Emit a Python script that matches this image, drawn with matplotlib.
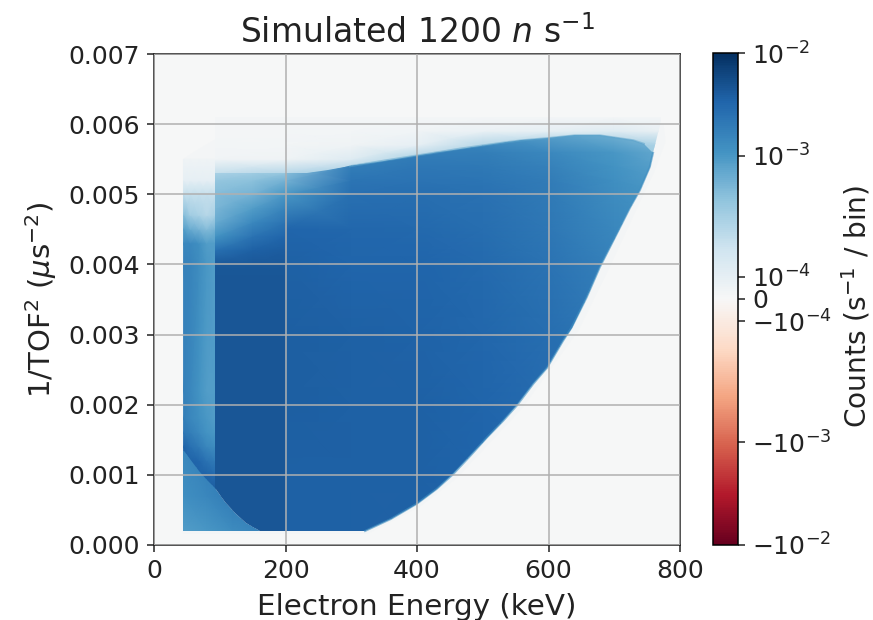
import numpy as np
import matplotlib
matplotlib.use("Agg")
import matplotlib.pyplot as plt
from matplotlib.cm import ScalarMappable
from matplotlib.colors import FuncNorm
from matplotlib.patches import Polygon

# colorbar ticks and where they sit along the bar (0 = bottom, 1 = top)
cbar_ticks = [-1e-2, -1e-3, -1e-4, 0, 1e-4, 1e-3, 1e-2]
cbar_labels = [r"$-10^{-2}$", r"$-10^{-3}$", r"$-10^{-4}$", "0", r"$10^{-4}$", r"$10^{-3}$", r"$10^{-2}$"]
cbar_pos = [0, 0.2093, 0.455, 0.5, 0.545, 0.7907, 1]

# edges of the populated area, energy in keV, 1/TOF^2 in us^-2
arc_x = [45, 55, 68, 80, 93, 108, 123, 140, 161]
arc_y = [0.00134, 0.00122, 0.00105, 0.00092, 0.00081, 0.00062, 0.00046, 0.00032, 0.0002]
curve_x = [321, 360, 400, 430, 455, 481, 506, 531, 552, 577, 598, 622, 635, 658, 678, 704, 724, 739, 754, 759]
curve_y = [0.0002, 0.00037, 0.00059, 0.0008, 0.00101, 0.00127, 0.00153, 0.00177, 0.00199, 0.0023, 0.00253,
           0.00291, 0.0031, 0.00353, 0.00396, 0.00444, 0.00481, 0.00506, 0.00539, 0.00559]
top_x = [745, 729, 678, 640, 598, 560, 526, 465, 405, 350, 298, 265, 233, 202, 150, 93]
top_y = [0.00572, 0.00577, 0.00584, 0.00584, 0.0058, 0.00577, 0.00573, 0.00565, 0.00556, 0.00548, 0.0054,
         0.00535, 0.0053, 0.0053, 0.0053, 0.0053]

# counts per bin, in units of 1e-3, rows go up in 1/TOF^2
main_e = [200, 300, 400, 500, 600, 700, 780]
main_t = [0.0, 0.001, 0.002, 0.003, 0.004, 0.0045, 0.005, 0.0052, 0.0054, 0.0056, 0.006]
main_counts = [
    [3.7, 3.7, 3.5, 3.3, 2.9, 2.5, 2.0],
    [3.7, 3.7, 3.6, 3.3, 2.9, 2.5, 2.0],
    [3.8, 3.7, 3.6, 3.3, 2.8, 2.5, 2.0],
    [3.8, 3.7, 3.5, 3.2, 2.7, 2.1, 1.6],
    [3.6, 3.4, 3.3, 3.0, 2.4, 1.7, 1.2],
    [3.3, 3.2, 3.1, 2.7, 2.2, 1.5, 1.1],
    [1.0, 2.6, 2.7, 2.5, 2.0, 1.3, 1.0],
    [0.6, 2.3, 2.4, 2.3, 1.9, 1.2, 0.9],
    [0.4, 1.8, 2.2, 2.1, 1.7, 1.1, 0.8],
    [0.3, 1.5, 1.8, 1.8, 1.4, 1.0, 0.7],
    [0.3, 1.2, 1.3, 1.0, 0.7, 0.5, 0.3],
]

left_e = [93, 150, 200]
left_t = [0.0, 0.0038, 0.0040, 0.0042, 0.0044, 0.0046, 0.0048, 0.005, 0.0052, 0.0053]
left_counts = [
    [4.6, 4.6, 4.6],
    [4.5, 4.5, 4.5],
    [4.3, 4.3, 4.3],
    [2.6, 3.6, 3.9],
    [1.1, 2.4, 3.3],
    [0.7, 1.4, 2.4],
    [0.55, 0.9, 1.6],
    [0.5, 0.6, 1.0],
    [0.4, 0.45, 0.6],
    [0.3, 0.35, 0.4],
]

strip_e = [45, 55, 68, 80, 93]
strip_t = [0.0008, 0.0010, 0.0012, 0.0014, 0.0016, 0.0018, 0.0022, 0.004, 0.0043, 0.0045, 0.0047, 0.005, 0.0052, 0.0055]
strip_counts = [
    [3.5, 3.5, 3.5, 3.5, 4.0],
    [3.5, 3.5, 3.5, 3.5, 3.0],
    [3.5, 3.5, 3.2, 2.4, 2.0],
    [3.5, 2.6, 2.0, 1.5, 1.3],
    [2.2, 1.8, 1.4, 1.1, 1.0],
    [1.8, 1.5, 1.2, 1.0, 0.9],
    [1.7, 1.5, 1.1, 0.9, 0.9],
    [1.7, 1.6, 1.3, 1.0, 0.9],
    [1.5, 1.4, 1.2, 0.9, 0.9],
    [0.9, 0.7, 0.6, 0.5, 0.6],
    [0.5, 0.35, 0.3, 0.25, 0.3],
    [0.2, 0.2, 0.2, 0.2, 0.2],
    [0.1, 0.1, 0.1, 0.1, 0.1],
    [0.05, 0.05, 0.05, 0.05, 0.05],
]

# speckled fringe above the body
fringe_e = [93, 200, 300, 400, 500, 600, 700, 770]
fringe_t = [0.0048, 0.0051, 0.0053, 0.0055, 0.0057, 0.0059, 0.0061]
fringe_counts = [
    [0.4, 0.4, 0.4, 0.4, 0.4, 0.4, 0.4, 0.4],
    [0.4, 0.4, 0.4, 0.4, 0.4, 0.4, 0.4, 0.4],
    [0.2, 0.25, 0.35, 0.4, 0.4, 0.4, 0.4, 0.4],
    [0.04, 0.05, 0.12, 0.3, 0.4, 0.4, 0.4, 0.4],
    [0.03, 0.03, 0.05, 0.1, 0.25, 0.35, 0.35, 0.3],
    [0.02, 0.02, 0.03, 0.04, 0.07, 0.1, 0.12, 0.08],
    [0.02, 0.02, 0.02, 0.02, 0.02, 0.02, 0.02, 0.02],
]

# area below the arc
under_e = [44, 80, 120, 161]
under_t = [0.0002, 0.0007, 0.0014]
under_counts = [
    [0.9, 1.0, 1.3, 1.6],
    [1.2, 1.5, 2.0, 2.2],
    [1.4, 1.9, 2.2, 2.2],
]

# faint noise around everything
halo_x = [44, 44, 60, 96, 200, 300, 400, 520, 600, 665, 775, 778, 760, 742, 690, 645, 560, 460, 405, 325, 161, 44]
halo_y = [0.00016, 0.0055, 0.0056, 0.0058, 0.0059, 0.0059, 0.0059, 0.0060, 0.0060, 0.0060, 0.0060, 0.00575,
          0.0053, 0.00495, 0.0039, 0.00305, 0.00195, 0.00095, 0.00055, 0.00016, 0.00016, 0.00016]
halo_val = 2.0e-5


def to_sym(v):
    v = np.asarray(v, dtype=float)
    a = np.abs(v) / 1e-4
    return np.where(a <= 1, v / 1e-4, np.sign(v) * (1 + np.log10(np.maximum(a, 1))))


sym_ticks = to_sym(cbar_ticks)


def forward(v):
    return np.interp(to_sym(v), sym_ticks, cbar_pos)


def inverse(p):
    s = np.interp(p, cbar_pos, sym_ticks)
    a = np.abs(s)
    return np.where(a <= 1, s * 1e-4, np.sign(s) * 1e-4 * 10 ** (a - 1))


norm = FuncNorm((forward, inverse), vmin=-1e-2, vmax=1e-2)
cmap = plt.get_cmap("RdBu")

fig = plt.figure(figsize=(8.73, 6.20), dpi=100)
ax = fig.add_axes([154 / 873, 1 - 545 / 620, 526 / 873, 491 / 620])
ax.set_facecolor(cmap(norm(0)))
ax.set_xlim(0, 800)
ax.set_ylim(0, 0.007)


def mesh(e, t, counts, outline=None):
    m = ax.pcolormesh(e, t, np.array(counts) * 1e-3, shading="gouraud", cmap=cmap, norm=norm, zorder=1)
    if outline is not None:
        m.set_clip_path(outline)
    return m


ax.fill(halo_x, halo_y, color=cmap(norm(halo_val)), lw=0, zorder=1)
mesh(strip_e, strip_t, strip_counts)

under_xy = np.column_stack([[44, 44] + arc_x, [0.0002, 0.00134] + arc_y])
under = Polygon(under_xy, closed=True, transform=ax.transData)
mesh(under_e, under_t, under_counts, under)

# fringe only reaches as far right as the outline does
fringe_xy = np.column_stack([[93] + curve_x[-4:] + [772, 93], [0.0048] + curve_y[-4:] + [0.0061, 0.0061]])
fringe = Polygon(fringe_xy, closed=True, transform=ax.transData)
mesh(fringe_e, fringe_t, fringe_counts, fringe)

body_xy = np.column_stack([arc_x[4:] + curve_x + top_x, arc_y[4:] + curve_y + top_y])
body = Polygon(body_xy, closed=True, transform=ax.transData)
mesh(left_e, left_t, left_counts, body)
mesh(main_e, main_t, main_counts, body)
# soft rim along the right hand edge
ax.plot(curve_x, curve_y, color=cmap(norm(1.2e-3)), lw=1.5, alpha=0.6, zorder=1)
ax.plot(top_x[:11], top_y[:11], color=cmap(norm(8e-4)), lw=1.5, alpha=0.5, zorder=1)

ax.grid(True, color="#b0b0b0", lw=1.1)
ax.set_axisbelow(False)
ax.set_xticks([0, 200, 400, 600, 800])
ax.set_yticks(np.arange(0, 0.0071, 0.001))
ax.set_yticklabels(["%.3f" % t for t in np.arange(0, 0.0071, 0.001)])
ax.tick_params(labelsize=18, length=5, width=1.1, pad=5, colors="#222222")
for s in ax.spines.values():
    s.set_linewidth(1.2)
    s.set_color("#333333")
ax.set_xlabel("Electron Energy (keV)", fontsize=21.2, labelpad=7, color="#222222")
ax.set_ylabel(r"1/TOF$^2$ ($\mu$s$^{-2}$)", fontsize=21, labelpad=7, color="#222222")
ax.set_title(r"Simulated 1200 $n$ s$^{-1}$", fontsize=23.8, pad=8, color="#222222")

cax = fig.add_axes([713 / 873, 1 - 545 / 620, 25 / 873, 492 / 620])
cbar = fig.colorbar(ScalarMappable(norm=norm, cmap=cmap), cax=cax)
cbar.set_ticks(cbar_ticks)
cbar.set_ticklabels(cbar_labels)
cbar.minorticks_off()
cbar.ax.tick_params(labelsize=18, length=5, width=1.1, pad=5, colors="#222222")
cbar.outline.set_linewidth(1.1)
cbar.set_label(r"Counts (s$^{-1}$ / bin)", fontsize=20.2, labelpad=6, color="#222222")
cbar.ax.yaxis.label.set_y(0.484)

fig.savefig("out.png", dpi=100)
